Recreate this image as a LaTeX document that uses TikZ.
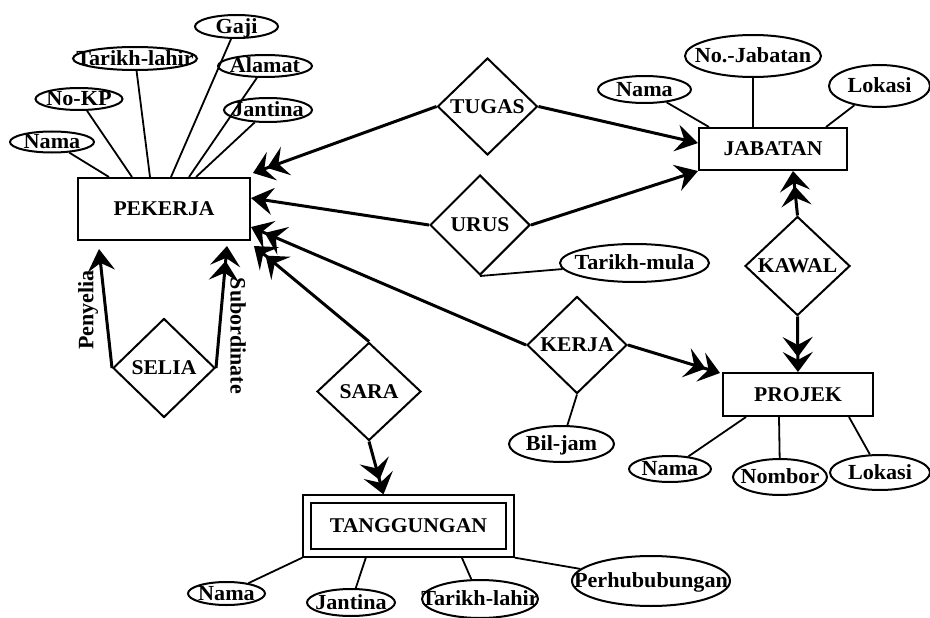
\documentclass[tikz,border=0pt]{standalone}
\usepackage{fontspec}
\setmainfont{Liberation Serif}[FakeStretch=1.03]
\newfontfamily\rotfont{Liberation Serif}
\usetikzlibrary{shapes.geometric,arrows.meta,calc}
\newcommand{\ct}[1]{\smash{\raisebox{-0.32em}{\makebox[0pt]{#1}}}}
\tikzset{
  arrone/.style={-{Stealth[length=22pt,width=27pt,inset=8pt]}},
  arrmany/.style={-{Stealth[length=20pt,width=30pt,inset=8pt,sep=-5pt] Stealth[length=20pt,width=30pt,inset=8pt]}},
  ent/.style={draw, line width=2pt, rectangle, inner sep=0pt, font=\bfseries\fontsize{21}{25}\selectfont},
  rel/.style={draw, diamond, line width=2pt, inner sep=0pt, font=\bfseries\fontsize{21}{25}\selectfont},
  attr/.style={draw, ellipse, line width=2pt, inner sep=0pt, font=\bfseries\fontsize{21.5}{26}\selectfont},
  aline/.style={line width=1.8pt},
  rline/.style={line width=3pt},
  rolelbl/.style={inner sep=0pt, font=\rotfont\bfseries\fontsize{22}{26}\selectfont}
}
\begin{document}
\begin{tikzpicture}[x=1pt,y=-1pt]
\fill[white] (0,0) rectangle (930,618);
\useasboundingbox (0,0) rectangle (930,618);

% entities
\node[ent, minimum width=172pt, minimum height=62pt] (pek) at (164,209) {\ct{PEKERJA}};
\node[ent, minimum width=148pt, minimum height=42pt] (jab) at (773,149) {\ct{JABATAN}};
\node[ent, minimum width=150pt, minimum height=43pt] (proj) at (798,394.5) {\ct{PROJEK}};
\node[ent, double, double distance=6pt, line width=1.8pt, minimum width=203.5pt, minimum height=54.5pt] (tang) at (408.5,526) {\ct{TANGGUNGAN}};

% relationships
\node[rel, minimum width=100pt, minimum height=97pt] (tugas) at (487.5,106.5) {\ct{TUGAS}};
\node[rel, minimum width=100pt, minimum height=100pt] (urus) at (480,225) {\ct{URUS}};
\node[rel, minimum width=105pt, minimum height=99pt] (kawal) at (797.5,266) {\ct{KAWAL}};
\node[rel, minimum width=100pt, minimum height=97pt] (kerja) at (577,345) {\ct{KERJA}};
\node[rel, minimum width=104pt, minimum height=98pt] (sara) at (369,391.5) {\ct{SARA}};
\node[rel, minimum width=102pt, minimum height=99pt] (selia) at (164,368) {\ct{SELIA}};

% attributes of PEKERJA
\node[attr, minimum width=84pt, minimum height=21pt] (pnama) at (52,142) {\ct{Nama}};
\node[attr, minimum width=87pt, minimum height=22pt] (pnokp) at (79,99) {\ct{No-KP}};
\node[attr, minimum width=124pt, minimum height=23pt] (ptarikh) at (135,58.5) {\ct{Tarikh-lahir}};
\node[attr, minimum width=83pt, minimum height=23pt] (pgaji) at (236.5,26.5) {\ct{Gaji}};
\node[attr, minimum width=94pt, minimum height=22pt] (palamat) at (265,66) {\ct{Alamat}};
\node[attr, minimum width=88pt, minimum height=24pt] (pjantina) at (268,110) {\ct{Jantina}};

% attributes of JABATAN
\node[attr, minimum width=93pt, minimum height=27pt] (jnama) at (644.5,89.5) {\ct{Nama}};
\node[attr, minimum width=136pt, minimum height=42pt] (jno) at (753,56) {\ct{No.-Jabatan}};
\node[attr, minimum width=101pt, minimum height=42pt] (jlokasi) at (879.5,86) {\ct{Lokasi}};

% URUS / KERJA attributes
\node[attr, minimum width=149pt, minimum height=38pt] (tmula) at (634.5,263) {\ct{Tarikh-mula}};
\node[attr, minimum width=105pt, minimum height=36pt] (biljam) at (561.5,444) {\ct{Bil-jam}};

% attributes of PROJEK
\node[attr, minimum width=82pt, minimum height=26pt] (prnama) at (670,469) {\ct{Nama}};
\node[attr, minimum width=94pt, minimum height=36pt] (prnombor) at (780,477) {\ct{Nombor}};
\node[attr, minimum width=100pt, minimum height=35pt] (prlokasi) at (880,472.5) {\ct{Lokasi}};

% attributes of TANGGUNGAN
\node[attr, minimum width=77pt, minimum height=23pt] (tnama) at (226.5,593.5) {\ct{Nama}};
\node[attr, minimum width=88pt, minimum height=27pt] (tjantina) at (351,602.5) {\ct{Jantina}};
\node[attr, minimum width=116pt, minimum height=38pt] (ttarikh) at (480,599) {\ct{Tarikh-lahir}};
\node[attr, minimum width=158pt, minimum height=50pt] (tperhub) at (651,581) {\ct{Perhububungan}};

% attribute lines
\draw[aline] (pnama) -- ($(pek.north west)+(32,0)$);
\draw[aline] (pnokp) -- ($(pek.north west)+(55,0)$);
\draw[aline] (ptarikh) -- ($(pek.north west)+(73,0)$);
\draw[aline] (pgaji) -- ($(pek.north west)+(94,0)$);
\draw[aline] (palamat) -- ($(pek.north west)+(112,0)$);
\draw[aline] (pjantina) -- ($(pek.north west)+(119,0)$);

\draw[aline] (jnama) -- ($(jab.north west)+(11,0)$);
\draw[aline] (jno) -- ($(jab.north west)+(55,0)$);
\draw[aline] (jlokasi) -- ($(jab.north west)+(128,0)$);

\draw[aline] (urus.south) -- (tmula);
\draw[aline] (kerja.south) -- (biljam);

\draw[aline] (prnama) -- ($(proj.south west)+(24,0)$);
\draw[aline] (prnombor) -- ($(proj.south west)+(57,0)$);
\draw[aline] (prlokasi) -- ($(proj.south west)+(127,0)$);

\draw[aline] (tnama) -- ($(tang.south west)+(-3.5,3.5)$);
\draw[aline] (tjantina) -- ($(tang.south west)+(60,3.5)$);
\draw[aline] (ttarikh) -- ($(tang.south west)+(156,3.5)$);
\draw[aline] (tperhub) -- ($(tang.south east)+(3.5,3.5)$);

% relationship lines
\draw[rline, arrmany] (tugas.west) -- ($(pek.north east)+(2,-4)$);
\draw[rline, arrone] (tugas.east) -- ($(jab.west)+(0,-6)$);
\draw[rline, arrone] (urus.west) -- ($(pek.east)+(0,-11)$);
\draw[rline, arrone] (urus.east) -- (jab.south west);
\draw[rline, arrmany] (kawal.north) -- ($(jab.south)+(20,0)$);
\draw[rline, arrmany] (kawal.south) -- (proj.north);
\draw[rline, arrmany] (kerja.west) -- ($(pek.east)+(0,18)$);
\draw[rline, arrmany] (kerja.east) -- ($(proj.north west)+(-2,1)$);
\draw[rline, arrmany] (sara.north) -- ($(pek.south east)+(3,5)$);
\draw[rline, arrmany] (sara.south) -- ($(tang.north)+(-25,-3.5)$);
\draw[rline, arrone] (selia.west) -- ($(pek.south west)+(22,8)$);
\draw[rline, arrmany] (selia.east) -- ($(pek.south west)+(150,5)$);

% role labels
\node[rolelbl, rotate=90] (lpenyelia) at (88,310) {Penyelia};
\node[rolelbl, rotate=-90] (lsub) at (238,336) {Subordinate};
\end{tikzpicture}
\end{document}
